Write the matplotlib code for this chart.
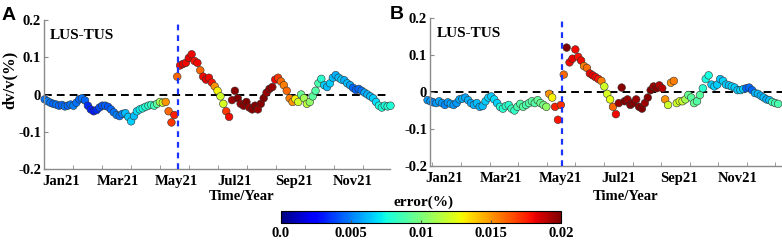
import numpy as np
import pandas as pd
import matplotlib
matplotlib.use("Agg")
import matplotlib.pyplot as plt
from matplotlib.ticker import FixedLocator, FixedFormatter

# ---------------- data ----------------
start_date = "2020-12-15"
step_days = 3
event_date = "2021-05-03"

dvv_A = [-0.013, -0.018, -0.022, -0.025, -0.027, -0.030, -0.028, -0.032, -0.030, -0.027,
         -0.030, -0.022, -0.013, -0.010, -0.016, -0.030, -0.040, -0.045, -0.042, -0.035,
         -0.030, -0.030, -0.033, -0.040, -0.048, -0.055, -0.058, -0.052, -0.050, -0.060,
         -0.072, -0.058, -0.045, -0.040, -0.037, -0.033, -0.030, -0.028, -0.030, -0.025,
         -0.020, -0.022, -0.020, -0.045, -0.075, -0.055, 0.048, 0.078, 0.082, 0.085,
         0.098, 0.108, 0.090, 0.085, 0.065, 0.048, 0.040, 0.045, 0.032, 0.022,
         0.010, -0.005, -0.025, -0.045, -0.060, -0.015, 0.010, -0.010, -0.025, -0.030,
         -0.020, -0.035, -0.040, -0.030, -0.040, -0.025, -0.010, 0.005, 0.015, 0.020,
         0.040, 0.045, 0.035, 0.025, 0.010, -0.010, -0.020, -0.012, -0.020, 0.000,
         -0.010, -0.025, -0.020, -0.005, 0.010, 0.030, 0.042, 0.025, 0.020, 0.030,
         0.045, 0.052, 0.045, 0.040, 0.038, 0.030, 0.025, 0.018, 0.012, 0.015,
         0.010, 0.005, 0.000, -0.005, -0.010, -0.020, -0.030, -0.035, -0.030, -0.032,
         -0.030]
err_A = [0.0048, 0.0050, 0.0048, 0.0046, 0.0048, 0.0046, 0.0045, 0.0048, 0.0046, 0.0048,
         0.0050, 0.0048, 0.0046, 0.0048, 0.0045, 0.0034, 0.0032, 0.0030, 0.0033, 0.0040,
         0.0042, 0.0044, 0.0042, 0.0045, 0.0048, 0.0050, 0.0048, 0.0050, 0.0062, 0.0064,
         0.0066, 0.0062, 0.0068, 0.0072, 0.0075, 0.0078, 0.0080, 0.0082, 0.0085, 0.0092,
         0.0110, 0.0120, 0.0150, 0.0160, 0.0170, 0.0175, 0.0160, 0.0180, 0.0182, 0.0180,
         0.0182, 0.0180, 0.0178, 0.0180, 0.0160, 0.0180, 0.0182, 0.0180, 0.0178, 0.0150,
         0.0130, 0.0120, 0.0122, 0.0170, 0.0180, 0.0195, 0.0198, 0.0200, 0.0195, 0.0198,
         0.0200, 0.0195, 0.0198, 0.0200, 0.0195, 0.0198, 0.0200, 0.0195, 0.0198, 0.0195,
         0.0180, 0.0170, 0.0160, 0.0155, 0.0160, 0.0155, 0.0150, 0.0130, 0.0120, 0.0095,
         0.0110, 0.0115, 0.0105, 0.0092, 0.0090, 0.0088, 0.0080, 0.0065, 0.0062, 0.0065,
         0.0062, 0.0060, 0.0062, 0.0065, 0.0060, 0.0062, 0.0058, 0.0045, 0.0044, 0.0046,
         0.0048, 0.0058, 0.0060, 0.0062, 0.0065, 0.0068, 0.0075, 0.0078, 0.0076, 0.0080,
         0.0078]

dvv_B = [-0.022, -0.025, -0.028, -0.030, -0.025, -0.030, -0.035, -0.028, -0.032, -0.035,
         -0.030, -0.020, -0.018, -0.015, -0.022, -0.030, -0.035, -0.030, -0.040, -0.038,
         -0.025, -0.015, -0.012, -0.020, -0.030, -0.040, -0.045, -0.038, -0.035, -0.045,
         -0.050, -0.040, -0.032, -0.040, -0.035, -0.030, -0.025, -0.030, -0.022, -0.030,
         -0.035, -0.040, -0.005, -0.015, -0.040, -0.075, -0.035, 0.047, 0.120, 0.080,
         0.090, 0.115, 0.095, 0.085, 0.070, 0.065, 0.050, 0.045, 0.040, 0.035,
         0.030, 0.015, -0.005, -0.020, -0.040, -0.060, -0.030, 0.012, -0.025, -0.020,
         -0.035, -0.030, -0.020, -0.040, -0.045, -0.030, -0.015, 0.005, 0.015, 0.010,
         0.018, 0.010, -0.020, -0.035, 0.025, 0.030, -0.030, -0.025, -0.025, -0.020,
         -0.008, -0.015, -0.030, -0.025, -0.008, 0.010, 0.035, 0.045, 0.020, 0.015,
         0.020, 0.035, 0.030, 0.020, 0.018, 0.015, 0.012, 0.005, 0.005, 0.008,
         0.010, 0.012, 0.005, -0.003, -0.005, -0.010, -0.015, -0.020, -0.022, -0.027,
         -0.030, -0.032]
err_B = [0.0055, 0.0055, 0.0052, 0.0055, 0.0058, 0.0055, 0.0052, 0.0055, 0.0058, 0.0055,
         0.0055, 0.0058, 0.0060, 0.0058, 0.0060, 0.0058, 0.0060, 0.0062, 0.0060, 0.0062,
         0.0065, 0.0066, 0.0065, 0.0068, 0.0066, 0.0078, 0.0080, 0.0082, 0.0080, 0.0085,
         0.0082, 0.0088, 0.0090, 0.0092, 0.0088, 0.0090, 0.0092, 0.0090, 0.0094, 0.0096,
         0.0098, 0.0105, 0.0150, 0.0130, 0.0175, 0.0178, 0.0172, 0.0160, 0.0200, 0.0180,
         0.0182, 0.0180, 0.0178, 0.0180, 0.0155, 0.0158, 0.0180, 0.0182, 0.0180, 0.0178,
         0.0155, 0.0120, 0.0122, 0.0125, 0.0160, 0.0180, 0.0195, 0.0198, 0.0200, 0.0195,
         0.0198, 0.0200, 0.0195, 0.0198, 0.0200, 0.0195, 0.0198, 0.0200, 0.0195, 0.0198,
         0.0190, 0.0190, 0.0150, 0.0120, 0.0150, 0.0155, 0.0120, 0.0122, 0.0118, 0.0110,
         0.0095, 0.0092, 0.0095, 0.0090, 0.0092, 0.0080, 0.0075, 0.0076, 0.0065, 0.0066,
         0.0065, 0.0064, 0.0066, 0.0065, 0.0064, 0.0066, 0.0065, 0.0064, 0.0066, 0.0065,
         0.0045, 0.0046, 0.0045, 0.0060, 0.0062, 0.0060, 0.0062, 0.0060, 0.0062, 0.0085,
         0.0086, 0.0088]

month_labels = ["Jan21", "Mar21", "May21", "Jul21", "Sep21", "Nov21"]
month_dates = ["2021-01-01", "2021-03-01", "2021-05-01", "2021-07-01", "2021-09-01", "2021-11-01"]
yticks = [-0.2, -0.1, 0.0, 0.1, 0.2]
ytick_labels = ["-0.2", "-0.1", "0", "0.1", "0.2"]
cbar_ticks = [0.0, 0.005, 0.01, 0.015, 0.02]
cbar_labels = ["0.0", "0.005", "0.01", "0.015", "0.02"]

# ---------------- helpers ----------------
ref = pd.Timestamp("2021-01-01")
def to_day(dates):
    return np.asarray((pd.DatetimeIndex(dates) - ref).days, dtype=float)

days_A = to_day(pd.date_range(start_date, periods=len(dvv_A), freq=f"{step_days}D"))
days_B = to_day(pd.date_range(start_date, periods=len(dvv_B), freq=f"{step_days}D"))
event_day = to_day([event_date])[0]
label_days = to_day(month_dates)

W, H = 782, 242
fig = plt.figure(figsize=(W / 100, H / 100), dpi=100)

serif = "Liberation Serif"
fs = 10.5

def px_axes(l, t, r, b):
    return [l / W, 1 - b / H, (r - l) / W, (b - t) / H]

panels = [
    dict(rect=px_axes(44, 20, 390, 169), xlim=(-17.7, 342.5), days=days_A, v=dvv_A, e=err_A,
         letter="A", letter_xy=(2, 20), minor0=12.5, minor_step=30.2, tlabel_x=242),
    dict(rect=px_axes(430, 18, 782, 166), xlim=(-14.5, 350.0), days=days_B, v=dvv_B, e=err_B,
         letter="B", letter_xy=(390, 19), minor0=-12.0, minor_step=29.6, tlabel_x=626),
]

sc = None
for p in panels:
    ax = fig.add_axes(p["rect"])
    ax.set_xlim(*p["xlim"])
    ax.set_ylim(-0.2, 0.2)
    for s in ["top", "right"]:
        ax.spines[s].set_visible(False)
    for s in ["left", "bottom"]:
        ax.spines[s].set_color("#8a8a8a")
        ax.spines[s].set_linewidth(1.0)
    ax.axhline(0, color="black", ls=(0, (4, 2.6)), lw=1.4, zorder=1)
    sc = ax.scatter(p["days"], p["v"], c=p["e"], cmap="jet", vmin=0, vmax=0.02,
                    s=30, edgecolors="#333333", linewidths=0.4, zorder=2, clip_on=False)
    ax.axvline(event_day, color="#1a33ff", ls=(0, (2.6, 2.2)), lw=1.6, zorder=3)

    ax.yaxis.set_major_locator(FixedLocator(yticks))
    ax.yaxis.set_major_formatter(FixedFormatter(ytick_labels))
    ax.xaxis.set_major_locator(FixedLocator(label_days))
    ax.xaxis.set_major_formatter(FixedFormatter(month_labels))
    minors = [p["minor0"] + k * p["minor_step"] for k in range(14)]
    minors = [m for m in minors if p["xlim"][0] < m < p["xlim"][1]]
    ax.xaxis.set_minor_locator(FixedLocator(minors))
    ax.tick_params(axis="x", which="major", length=0, pad=4)
    ax.tick_params(axis="x", which="minor", direction="in", length=3, color="#8a8a8a")
    ax.tick_params(axis="y", direction="in", length=3, color="#8a8a8a", pad=2)
    for lab in ax.get_xticklabels() + ax.get_yticklabels():
        lab.set_fontfamily(serif)
        lab.set_fontweight("bold")
        lab.set_fontsize(fs)

    ax.text(0.018, 0.94, "LUS-TUS", transform=ax.transAxes, ha="left", va="top",
            fontfamily=serif, fontweight="bold", fontsize=11)
    fig.text(p["tlabel_x"] / W, 1 - 196 / H, "Time/Year", ha="center", va="center",
             fontfamily=serif, fontweight="bold", fontsize=fs)
    lx, ly = p["letter_xy"]
    fig.text(lx / W, 1 - ly / H, p["letter"], ha="left", va="baseline",
             fontfamily="Liberation Sans", fontweight="bold", fontsize=14)

fig.text(10 / W, 1 - 80 / H, "dv/v(%)", rotation=90, ha="center", va="center",
         fontfamily=serif, fontweight="bold", fontsize=12)

cax = fig.add_axes(px_axes(281, 211, 561, 223))
cb = fig.colorbar(sc, cax=cax, orientation="horizontal")
cb.set_ticks(cbar_ticks)
cb.set_ticklabels(cbar_labels)
cb.outline.set_linewidth(0.8)
cax.tick_params(length=2, direction="in", pad=3, color="#555555")
for lab in cax.get_xticklabels():
    lab.set_fontfamily(serif)
    lab.set_fontweight("bold")
    lab.set_fontsize(fs)
fig.text(423 / W, 1 - 202 / H, "error(%)", ha="center", va="center",
         fontfamily=serif, fontweight="bold", fontsize=11)

fig.savefig("out.png", dpi=100)
